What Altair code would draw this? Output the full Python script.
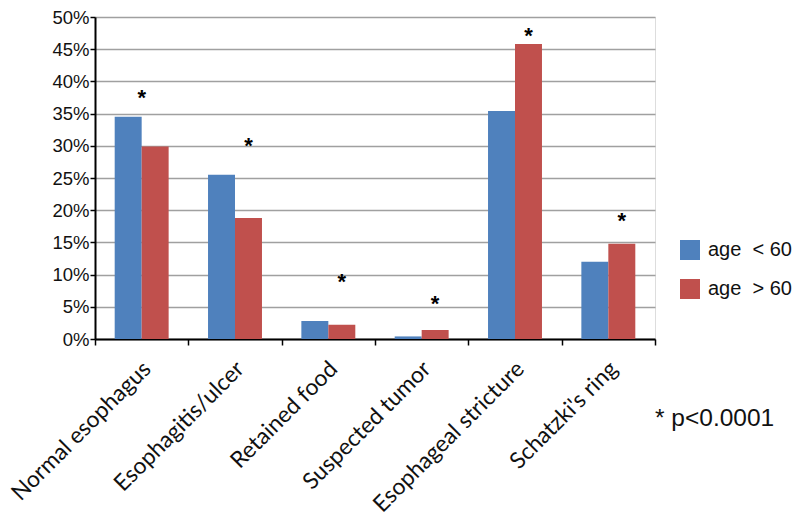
import altair as alt
import pandas as pd

categories = ["Normal esophagus", "Esophagitis/ulcer", "Retained food",
              "Suspected tumor", "Esophageal stricture", "Schatzki's ring"]
groups = ["age\u00a0\u00a0< 60", "age\u00a0\u00a0> 60"]
under60 = [34.5, 25.5, 2.8, 0.4, 35.4, 12.0]
over60 = [29.9, 18.8, 2.2, 1.4, 45.8, 14.8]
star_values = [38.0, 30.6, 9.5, 6.0, 47.7, 19.0]
star_over = ["both", groups[1], groups[1], groups[1], groups[1], groups[1]]
note = "* p<0.0001"
y_ticks = [0, 5, 10, 15, 20, 25, 30, 35, 40, 45, 50]

rows = []
for c, a, b in zip(categories, under60, over60):
    rows.append({"cat": c, "grp": groups[0], "val": a})
    rows.append({"cat": c, "grp": groups[1], "val": b})
df = pd.DataFrame(rows)
stars = pd.DataFrame({"cat": categories, "grp": star_over, "val": star_values})

xscale = alt.Scale(domain=categories, paddingInner=0, paddingOuter=0)
yscale = alt.Scale(domain=[0, 50])
offscale = alt.Scale(domain=groups, paddingInner=0, paddingOuter=0.73)

xaxis = alt.Axis(title=None, labelAngle=-45, labelAlign="right", labelBaseline="middle",
                 labelFont="Lato", labelFontSize=22.8, labelColor="#111", labelLimit=0,
                 labelOverlap=False, labelPadding=20, labelOffset=5, tickBand="extent",
                 tickSize=6, tickColor="black", tickWidth=1.5, domainColor="black",
                 domainWidth=2, grid=False)
yaxis = alt.Axis(title=None, values=y_ticks, labelExpr="datum.value + '%'",
                 labelOverlap=False, tickCount=11,
                 labelFont="Liberation Sans", labelFontSize=18.5, labelColor="#111",
                 labelPadding=1, tickSize=5, tickColor="black", tickWidth=1.5,
                 domainColor="black", domainWidth=2, grid=True, gridColor="#a0a0a0",
                 gridWidth=1.5)

bars = alt.Chart(df).mark_bar().encode(
    x=alt.X("cat:N", scale=xscale, axis=xaxis, sort=categories),
    xOffset=alt.XOffset("grp:N", scale=offscale),
    y=alt.Y("val:Q", scale=yscale, axis=yaxis),
    color=alt.Color("grp:N", scale=alt.Scale(domain=groups, range=["#4F81BD", "#C0504D"]),
                    legend=alt.Legend(title=None, orient="none", legendX=585, legendY=223,
                                      symbolType="square", symbolSize=400,
                                      symbolStrokeWidth=0, labelFont="Liberation Sans",
                                      labelFontSize=20, labelColor="#111",
                                      rowPadding=19, labelOffset=8)),
)

star_red = alt.Chart(stars[stars["grp"] != "both"]).mark_text(
    text="*", font="Liberation Sans", fontSize=22, fontWeight="bold", color="black",
    baseline="alphabetic", dy=11
).encode(
    x=alt.X("cat:N", scale=xscale, axis=xaxis, sort=categories),
    xOffset=alt.XOffset("grp:N", scale=offscale),
    y=alt.Y("val:Q", scale=yscale, axis=yaxis),
)

star_mid = alt.Chart(stars[stars["grp"] == "both"]).mark_text(
    text="*", font="Liberation Sans", fontSize=22, fontWeight="bold", color="black",
    baseline="alphabetic", dy=11
).encode(
    x=alt.X("cat:N", scale=xscale, axis=xaxis, sort=categories),
    y=alt.Y("val:Q", scale=yscale, axis=yaxis),
)

note_layer = alt.Chart(pd.DataFrame({"t": [note]})).mark_text(
    font="Liberation Sans", fontSize=24.5, color="#111", align="left", baseline="alphabetic"
).encode(text="t:N", x=alt.value(560), y=alt.value(409))

chart = alt.layer(bars, star_red, star_mid, note_layer).properties(
    width=560, height=322,
    autosize=alt.AutoSizeParams(type="none"),
    padding={"left": 87, "top": 9, "right": 137, "bottom": 180},
).configure_view(stroke=None).configure(background="white")

chart.save("out.html", embed_options={"renderer": "svg", "actions": False})
